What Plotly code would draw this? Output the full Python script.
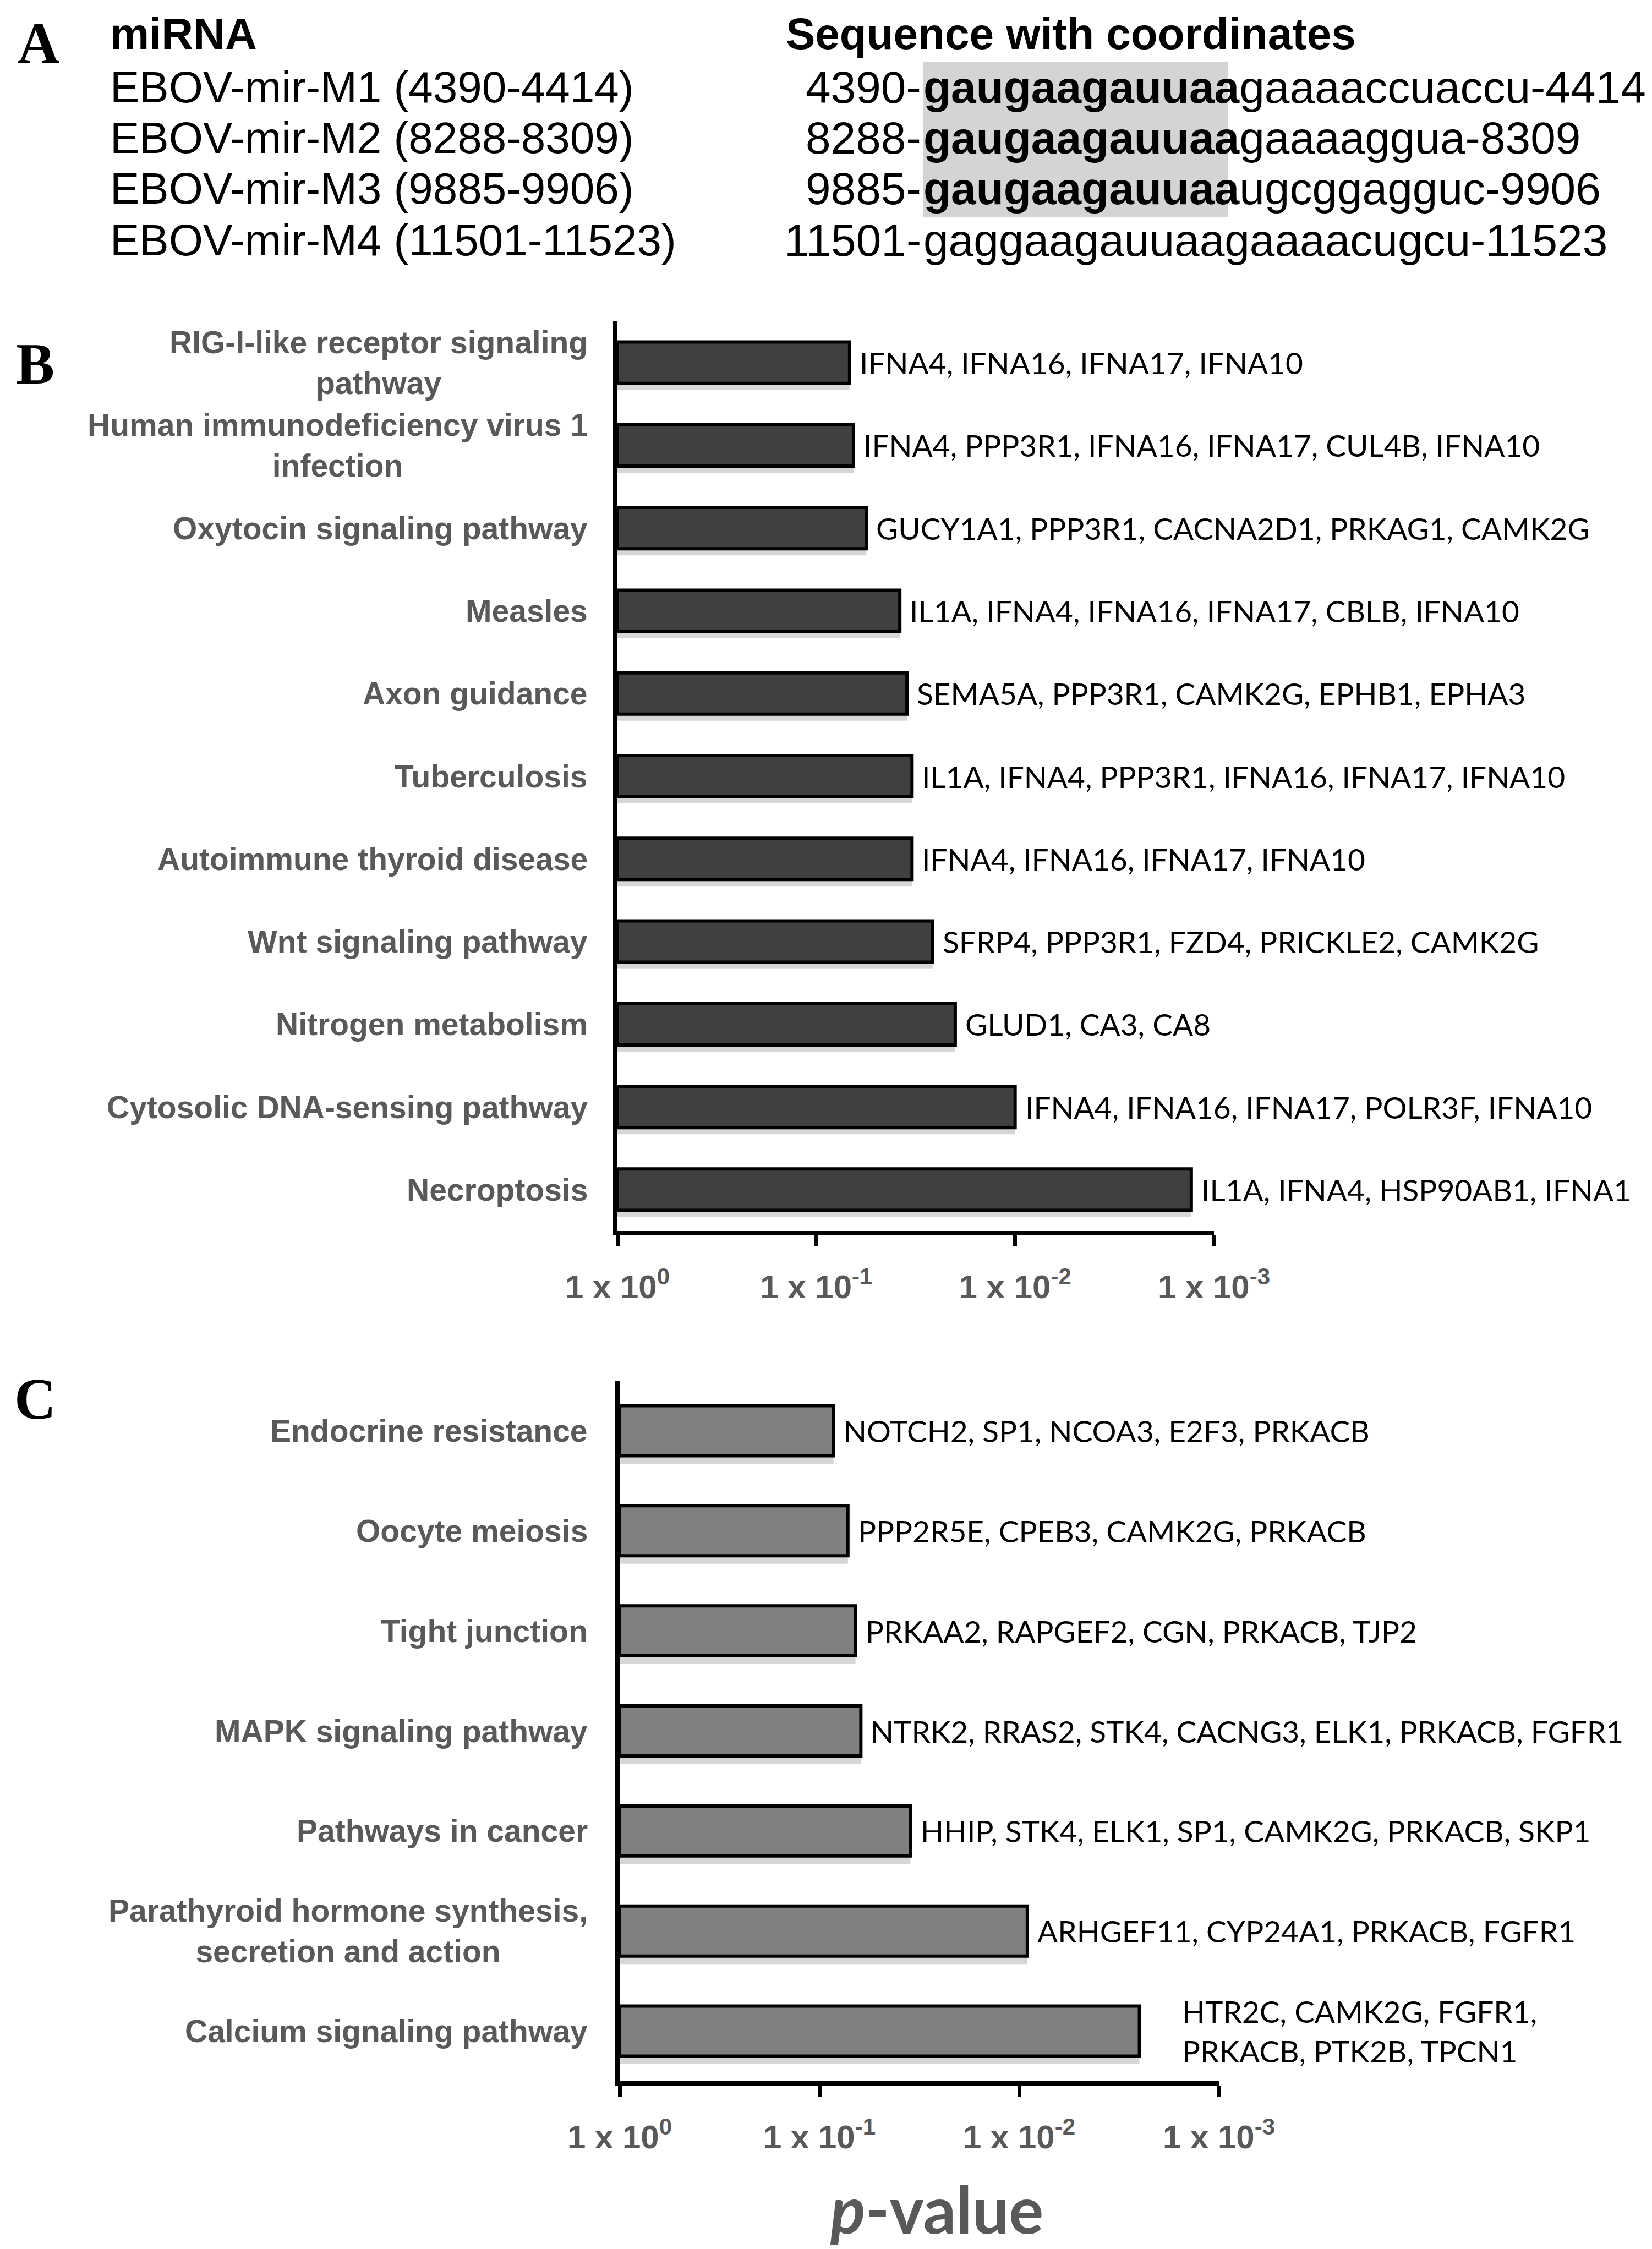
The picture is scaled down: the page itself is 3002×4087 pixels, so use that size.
import numpy as np
import plotly.graph_objects as go

# ---- panel A: EBOV miRNA sequences ----
mirna_names = ["EBOV-mir-M1 (4390-4414)", "EBOV-mir-M2 (8288-8309)",
               "EBOV-mir-M3 (9885-9906)", "EBOV-mir-M4 (11501-11523)"]
seq_start = ["4390", "8288", "9885", "11501"]
seq_seed = ["gaugaagauuaa", "gaugaagauuaa", "gaugaagauuaa", ""]
seq_rest = ["gaaaaccuaccu", "gaaaaggua", "ugcggagguc", "gaggaagauuaagaaaacugcu"]
seq_end = ["4414", "8309", "9906", "11523"]

# ---- panel B: KEGG pathways (EBOV miRNA targets) ----
b_terms = ["RIG-I-like receptor signaling<br>pathway", "Human immunodeficiency virus 1<br>infection",
           "Oxytocin signaling pathway", "Measles", "Axon guidance", "Tuberculosis",
           "Autoimmune thyroid disease", "Wnt signaling pathway", "Nitrogen metabolism",
           "Cytosolic DNA-sensing pathway", "Necroptosis"]
b_pvals = [0.068, 0.065, 0.056, 0.038, 0.035, 0.033, 0.033, 0.026, 0.020, 0.010, 0.0013]
b_genes = ["IFNA4, IFNA16, IFNA17, IFNA10",
           "IFNA4, PPP3R1, IFNA16, IFNA17, CUL4B, IFNA10",
           "GUCY1A1, PPP3R1, CACNA2D1, PRKAG1, CAMK2G",
           "IL1A, IFNA4, IFNA16, IFNA17, CBLB, IFNA10",
           "SEMA5A, PPP3R1, CAMK2G, EPHB1, EPHA3",
           "IL1A, IFNA4, PPP3R1, IFNA16, IFNA17, IFNA10",
           "IFNA4, IFNA16, IFNA17, IFNA10",
           "SFRP4, PPP3R1, FZD4, PRICKLE2, CAMK2G",
           "GLUD1, CA3, CA8",
           "IFNA4, IFNA16, IFNA17, POLR3F, IFNA10",
           "IL1A, IFNA4, HSP90AB1, IFNA1"]

# ---- panel C ----
c_terms = ["Endocrine resistance", "Oocyte meiosis", "Tight junction", "MAPK signaling pathway",
           "Pathways in cancer", "Parathyroid hormone synthesis,<br>secretion and action",
           "Calcium signaling pathway"]
c_pvals = [0.085, 0.072, 0.066, 0.062, 0.035, 0.0091, 0.0025]
c_genes = ["NOTCH2, SP1, NCOA3, E2F3, PRKACB",
           "PPP2R5E, CPEB3, CAMK2G, PRKACB",
           "PRKAA2, RAPGEF2, CGN, PRKACB, TJP2",
           "NTRK2, RRAS2, STK4, CACNG3, ELK1, PRKACB, FGFR1",
           "HHIP, STK4, ELK1, SP1, CAMK2G, PRKACB, SKP1",
           "ARHGEF11, CYP24A1, PRKACB, FGFR1",
           "HTR2C, CAMK2G, FGFR1,<br>PRKACB, PTK2B, TPCN1"]

tick_vals = [0, 1, 2, 3]
tick_text = ["1 x 10<sup>0</sup>", "1 x 10<sup>-1</sup>", "1 x 10<sup>-2</sup>", "1 x 10<sup>-3</sup>"]

W, H = 3002, 4087
ARIAL = "Liberation Sans, Arial, sans-serif"
TIMES = "Liberation Serif, Times New Roman, serif"
CALIBRI = "Lato, Carlito, Calibri, sans-serif"
GREY = "#595959"


def px(x):
    return x / W


def py(y):
    return 1 - y / H


fig = go.Figure()
annos = []


def add_panel(terms, pvals, genes, color, xa, ya, label_right):
    vals = -np.log10(pvals)
    # soft shadow under each bar
    fig.add_trace(go.Bar(x=vals, y=terms, orientation="h", width=0.5, offset=-0.17,
                         marker=dict(color="rgba(0,0,0,0.16)", line=dict(width=0)),
                         xaxis=xa, yaxis=ya, hoverinfo="skip", showlegend=False))
    fig.add_trace(go.Bar(x=vals, y=terms, orientation="h", width=0.5,
                         marker=dict(color=color, line=dict(color="black", width=6)),
                         xaxis=xa, yaxis=ya, hoverinfo="skip", showlegend=False))
    xr = "x" if xa == "x" else "x2"
    yr = "y" if ya == "y" else "y2"
    for t, v, g in zip(terms, vals, genes):
        annos.append(dict(xref="paper", yref=yr, x=px(label_right), y=t, xanchor="right",
                          yanchor="middle", align="center", text="<b>" + t + "</b>",
                          showarrow=False, font=dict(family=ARIAL, size=57, color=GREY)))
        annos.append(dict(xref=xr, yref=yr, x=v, y=t, xanchor="left", yanchor="middle",
                          align="left", text=g, showarrow=False,
                          xshift=75 if "<br>" in g else 16,
                          font=dict(family=CALIBRI, size=55, color="black")))


add_panel(b_terms, b_pvals, b_genes, "#404040", "x", "y", 1062)
add_panel(c_terms, c_pvals, c_genes, "#808080", "x2", "y2", 1062)

axis_common = dict(range=[0, 3], tickvals=tick_vals, ticktext=tick_text, ticks="outside",
                   ticklen=20, tickwidth=7, tickcolor="black", showline=True, linewidth=8,
                   linecolor="black", showgrid=False, zeroline=False, ticklabelstandoff=22,
                   automargin=False,
                   tickfont=dict(family=ARIAL, size=60, color=GREY, weight="bold"))
yaxis_common = dict(type="category", showline=True, linewidth=8, linecolor="black",
                    showticklabels=False, ticks="", showgrid=False, zeroline=False,
                    automargin=False)

fig.update_layout(
    width=W, height=H, margin=dict(l=0, r=0, t=0, b=0, pad=0, autoexpand=False),
    paper_bgcolor="white", plot_bgcolor="white", barmode="overlay", showlegend=False,
    xaxis=dict(domain=[px(1114), px(2198)], anchor="y", **axis_common),
    yaxis=dict(domain=[py(2229), py(576)], anchor="x", range=[len(b_terms) - 0.5, -0.5],
               **yaxis_common),
    xaxis2=dict(domain=[px(1118), px(2207)], anchor="y2", **axis_common),
    yaxis2=dict(domain=[py(3774), py(2501)], anchor="x2", range=[len(c_terms) - 0.5, -0.5],
                **yaxis_common),
)

# panel letters
for letter, (lx, ly) in zip("ABC", [(62, 70), (56, 654), (56, 2534)]):
    annos.append(dict(xref="paper", yref="paper", x=px(lx), y=py(ly), xanchor="center",
                      yanchor="middle", text="<b>" + letter + "</b>", showarrow=False,
                      font=dict(family=TIMES, size=105, color="black")))

# panel A table
annos.append(dict(xref="paper", yref="paper", x=px(190), y=py(54), xanchor="left",
                  yanchor="middle", text="<b>miRNA</b>", showarrow=False,
                  font=dict(family=ARIAL, size=80, color="black")))
annos.append(dict(xref="paper", yref="paper", x=px(1418), y=py(54), xanchor="left",
                  yanchor="middle", text="<b>Sequence with coordinates</b>", showarrow=False,
                  font=dict(family=ARIAL, size=80, color="black")))
row_y = [150, 243, 335, 428]
for name, s0, seed, rest, s1, ry in zip(mirna_names, seq_start, seq_seed, seq_rest, seq_end, row_y):
    annos.append(dict(xref="paper", yref="paper", x=px(190), y=py(ry), xanchor="left",
                      yanchor="middle", text=name, showarrow=False,
                      font=dict(family=ARIAL, size=80, color="black")))
    annos.append(dict(xref="paper", yref="paper", x=px(1668), y=py(ry), xanchor="right",
                      yanchor="middle", text=s0 + "-", showarrow=False,
                      font=dict(family=ARIAL, size=82, color="black")))
    body = ("<b>" + seed + "</b>" if seed else "") + rest + "-" + s1
    annos.append(dict(xref="paper", yref="paper", x=px(1668), y=py(ry), xanchor="left",
                      yanchor="middle", text=body, showarrow=False,
                      font=dict(family=ARIAL, size=82, color="black")))

# x-axis title
annos.append(dict(xref="paper", yref="paper", x=px(1694), y=py(4005), xanchor="center",
                  yanchor="middle", text="<b><i>p</i>-value</b>", showarrow=False,
                  font=dict(family=CALIBRI, size=118, color=GREY)))

fig.update_layout(annotations=annos, shapes=[
    dict(type="rect", xref="paper", yref="paper", x0=px(1670), x1=px(2224),
         y0=py(386), y1=py(104), fillcolor="#d4d4d4", line=dict(width=0), layer="below")
])

fig.write_html("out.html")
